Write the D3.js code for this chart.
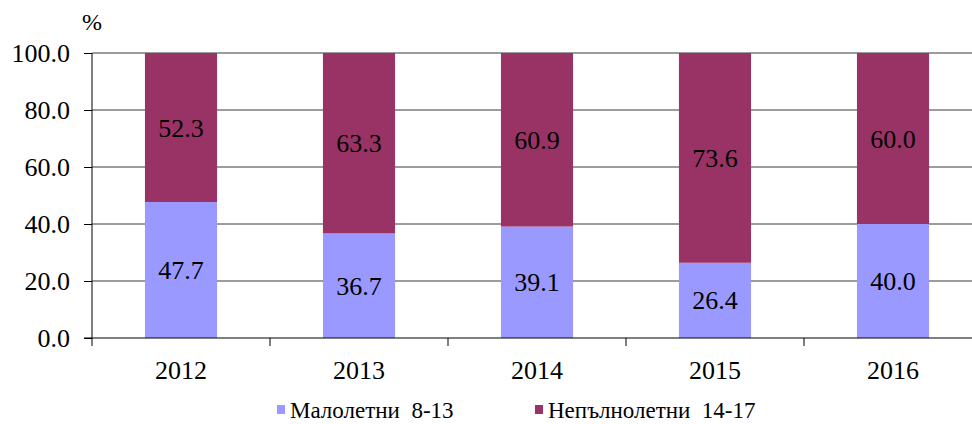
<!DOCTYPE html>
<html>
<head>
<meta charset="utf-8">
<script src="https://cdn.jsdelivr.net/npm/d3@7"></script>
</head>
<body style="margin:0">
<div id="chart"></div>
<script>
// Data
const years = ["2012", "2013", "2014", "2015", "2016"];
const young = [47.7, 36.7, 39.1, 26.4, 40.0];   // Малолетни 8-13
const older = [52.3, 63.3, 60.9, 73.6, 60.0];   // Непълнолетни 14-17
const seriesNames = ["Малолетни  8-13", "Непълнолетни  14-17"];
const yTicks = [0, 20, 40, 60, 80, 100];

const W = 972, H = 424;
const margin = { top: 53, left: 92 };
const plotH = 285;
const catW = 178;
const colors = ["#9999ff", "#993366"];
const serif = '"Liberation Serif"';

const svg = d3.select("#chart").append("svg")
    .attr("width", W)
    .attr("height", H);

const x = d3.scaleBand()
    .domain(years)
    .range([margin.left, margin.left + catW * years.length])
    .paddingInner(0.595)
    .paddingOuter(0.2975);

const y = d3.scaleLinear()
    .domain([0, 100])
    .range([margin.top + plotH, margin.top]);

// Gridlines
svg.append("g")
    .selectAll("line")
    .data(yTicks.filter(d => d > 0))
    .enter()
    .append("line")
    .attr("x1", margin.left)
    .attr("x2", W)
    .attr("y1", d => y(d))
    .attr("y2", d => y(d))
    .attr("stroke", "#3a3a3a")
    .attr("stroke-width", 1);

// Stacked bars
const data = years.map((yr, i) => ({ year: yr, a: young[i], b: older[i] }));

svg.append("g").selectAll("rect")
    .data(data)
    .enter()
    .append("rect")
    .attr("x", d => x(d.year))
    .attr("width", x.bandwidth())
    .attr("y", d => y(d.a))
    .attr("height", d => y(0) - y(d.a))
    .attr("fill", colors[0]);

svg.append("g").selectAll("rect")
    .data(data)
    .enter()
    .append("rect")
    .attr("x", d => x(d.year))
    .attr("width", x.bandwidth())
    .attr("y", d => y(d.a + d.b))
    .attr("height", d => y(d.a) - y(d.a + d.b))
    .attr("fill", colors[1]);

// Value labels
const labels = svg.append("g");

labels.selectAll(".la")
    .data(data)
    .enter()
    .append("text")
    .attr("x", d => x(d.year) + x.bandwidth() / 2)
    .attr("y", d => (y(0) + y(d.a)) / 2)
    .attr("dy", "0.35em")
    .text(d => d.a.toFixed(1));

labels.selectAll(".lb")
    .data(data)
    .enter()
    .append("text")
    .attr("x", d => x(d.year) + x.bandwidth() / 2)
    .attr("y", d => (y(d.a) + y(d.a + d.b)) / 2)
    .attr("dy", "0.35em")
    .text(d => d.b.toFixed(1));

labels.selectAll("text")
    .attr("text-anchor", "middle")
    .style("font-family", serif)
    .style("font-size", "26px");

// Y axis
const yAxis = svg.append("g")
    .attr("transform", `translate(${margin.left},0)`)
    .call(d3.axisLeft(y).tickValues(yTicks).tickSize(8).tickPadding(14)
        .tickFormat(d => d.toFixed(1)));
yAxis.select(".domain").attr("stroke", "#000").attr("d", `M0,${y(100)}V${y(0) + 8}`);
yAxis.selectAll("line").attr("stroke", "#000");
yAxis.selectAll("text")
    .attr("fill", "#000")
    .style("font-family", serif)
    .style("font-size", "26px");

// X axis
const xAxis = svg.append("g")
    .attr("transform", `translate(0,${y(0)})`);
xAxis.append("line")
    .attr("x1", margin.left - 8)
    .attr("x2", W)
    .attr("stroke", "#000");
xAxis.selectAll(".tick")
    .data(years.slice(1))
    .enter()
    .append("line")
    .attr("x1", d => x(d) - x.step() * x.paddingInner() / 2)
    .attr("x2", d => x(d) - x.step() * x.paddingInner() / 2)
    .attr("y2", 8)
    .attr("stroke", "#000");
xAxis.selectAll("text")
    .data(years)
    .enter()
    .append("text")
    .attr("x", d => x(d) + x.bandwidth() / 2)
    .attr("y", 41)
    .attr("text-anchor", "middle")
    .style("font-family", serif)
    .style("font-size", "26px")
    .text(d => d);

// Unit
svg.append("text")
    .attr("x", margin.left)
    .attr("y", 30)
    .attr("text-anchor", "middle")
    .style("font-family", serif)
    .style("font-size", "24px")
    .text("%");

// Legend
const legend = svg.selectAll(".legend")
    .data(seriesNames)
    .enter()
    .append("g")
    .attr("class", "legend")
    .attr("transform", (d, i) => `translate(${277 + i * 258},405)`);

legend.append("rect")
    .attr("width", 8)
    .attr("height", 9)
    .attr("fill", (d, i) => colors[i]);

legend.append("text")
    .attr("x", 13)
    .attr("y", 13)
    .style("font-family", serif)
    .style("font-size", "23px")
    .style("white-space", "pre")
    .text(d => d);
</script>
</body>
</html>
